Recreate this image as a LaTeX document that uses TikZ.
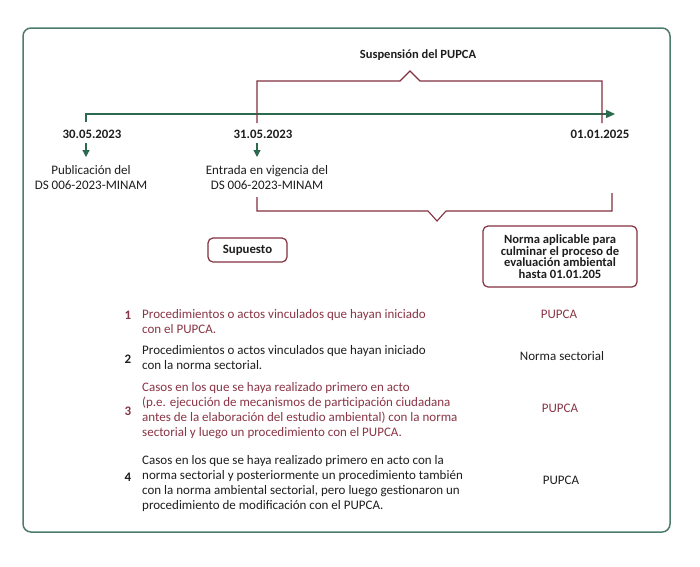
\documentclass[tikz,border=0pt]{standalone}
\usepackage{fontspec}
\setmainfont{Carlito}
\usetikzlibrary{arrows.meta}
\definecolor{tlgreen}{HTML}{2B6A4E}
\definecolor{framec}{HTML}{4E7C6C}
\definecolor{maroonc}{HTML}{83303F}
\definecolor{redtext}{HTML}{8A3545}
\definecolor{darktext}{HTML}{1E1E1E}
\begin{document}
\begin{tikzpicture}[x=1pt,y=-1pt,
  lbl/.style={font=\fontsize{13}{15}\selectfont, text=darktext, inner sep=0pt, align=center},
  datelbl/.style={font=\bfseries\fontsize{12.8}{15}\selectfont, text=darktext, inner sep=0pt},
  itemtxt/.style={font=\fontsize{13}{15}\selectfont, inner sep=0pt, align=left, anchor=west},
  numlbl/.style={font=\bfseries\fontsize{13}{15}\selectfont, inner sep=0pt},
  reslbl/.style={font=\fontsize{13}{15}\selectfont, inner sep=0pt},
  bracket/.style={draw=maroonc, line width=1.1pt, line join=miter},
  tl/.style={draw=tlgreen, line width=1.3pt},
  tip/.style={-{Triangle[length=7pt,width=7pt]}},
  boxc/.style={draw=maroonc, line width=1.2pt, rounded corners=5pt, fill=white, inner sep=0pt},
]
\useasboundingbox (0,0) rectangle (700,566);
\fill[white] (0,0) rectangle (700,566);
% outer frame
\draw[framec, line width=1.5pt, rounded corners=8pt] (23,28) rectangle (670,532);

% title
\node[datelbl, font=\bfseries\fontsize{12.5}{15}\selectfont] (susp) at (418,55) {Suspensión del PUPCA};

% timeline
\coordinate (t0) at (86,122);
\coordinate (t0b) at (86,114);
\coordinate (tend) at (615,114);
\draw[tl, tlgreen, -{Triangle[length=9pt,width=8pt]}] (t0) -- (t0b) -- (tend);

% top brace
\coordinate (ba1) at (257,123);
\coordinate (ba2) at (602,123);
\draw[bracket] (ba1) -- (257,81) -- (400,81) -- (410,71) -- (420,81) -- (602,81) -- (ba2);

% dates
\node[datelbl] (d1) at (92,134) {30.05.2023};
\node[datelbl] (d2) at (263,134) {31.05.2023};
\node[datelbl] (d3) at (600,134) {01.01.2025};

% small arrows
\coordinate (a1s) at (86,143);
\coordinate (a1e) at (86,157);
\coordinate (a2s) at (257,143);
\coordinate (a2e) at (257,157);
\draw[tl, tlgreen, line width=1.2pt, tip] (a1s) -- (a1e);
\draw[tl, tlgreen, line width=1.2pt, tip] (a2s) -- (a2e);

% descriptions
\node[lbl] (p1) at (91,177.5) {Publicación del\\DS 006-2023-MINAM};
\node[lbl] (p2) at (267,177.5) {Entrada en vigencia del\\DS 006-2023-MINAM};

% bottom brace
\coordinate (bb1) at (257,197);
\coordinate (bb2) at (612,193);
\draw[bracket] (bb1) -- (257,211) -- (428,211) -- (437,221) -- (446,211) -- (612,211) -- (bb2);

% boxes
\node[boxc, minimum width=79pt, minimum height=24pt, font=\bfseries\fontsize{12.8}{15}\selectfont, text=darktext] (sup) at (247.5,250) {Supuesto};
\node[boxc, minimum width=154pt, minimum height=61pt, align=center, font=\bfseries\fontsize{12.6}{11.6}\selectfont, text=darktext] (norma) at (560,256.5) {Norma aplicable para\\culminar el proceso de\\evaluación ambiental\\hasta 01.01.205};

% list
\node[numlbl, text=redtext] (n1) at (128,315) {1};
\node[itemtxt, text=redtext] (i1) at (142,321.5) {Procedimientos o actos vinculados que hayan iniciado\\con el PUPCA.};
\node[reslbl, text=redtext] (r1) at (559,314) {PUPCA};

\node[numlbl, text=darktext] (n2) at (128,359) {2};
\node[itemtxt, text=darktext] (i2) at (142,357.5) {Procedimientos o actos vinculados que hayan iniciado\\con la norma sectorial.};
\node[reslbl, text=darktext] (r2) at (562,356) {Norma sectorial};

\node[numlbl, text=redtext] (n3) at (128,411) {3};
\node[itemtxt, text=redtext] (i3) at (142,411) {Casos en los que se haya realizado primero en acto\\(p.e. ejecución de mecanismos de participación ciudadana\\antes de la elaboración del estudio ambiental) con la norma\\sectorial y luego un procedimiento con el PUPCA.};
\node[reslbl, text=redtext] (r3) at (560,408) {PUPCA};

\node[numlbl, text=darktext] (n4) at (128,477) {4};
\node[itemtxt, text=darktext] (i4) at (142,483.5) {Casos en los que se haya realizado primero en acto con la\\norma sectorial y posteriormente un procedimiento también\\con la norma ambiental sectorial, pero luego gestionaron un\\procedimiento de modificación con el PUPCA.};
\node[reslbl, text=darktext] (r4) at (561,480) {PUPCA};
\end{tikzpicture}
\end{document}
